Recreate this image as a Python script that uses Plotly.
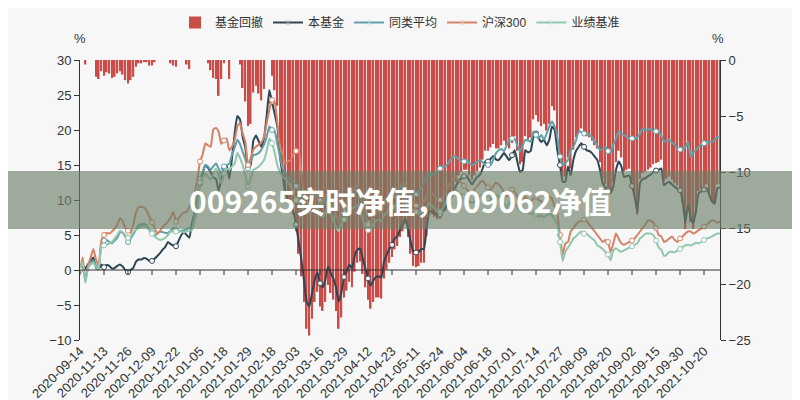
import plotly.graph_objects as go

tick_labels = ["2020-09-14", "2020-11-13", "2020-11-26", "2020-12-09", "2020-12-22",
               "2021-01-05", "2021-01-18", "2021-01-29", "2021-02-18", "2021-03-03",
               "2021-03-16", "2021-03-29", "2021-04-12", "2021-04-23", "2021-05-11",
               "2021-05-24", "2021-06-04", "2021-06-18", "2021-07-01", "2021-07-14",
               "2021-07-27", "2021-08-09", "2021-08-20", "2021-09-02", "2021-09-15",
               "2021-09-30", "2021-10-20"]
tick_step = 9  # categories between labelled ticks

fund = [
    0, 0.6, 0.2, 0.8, 1.3, 1.8, 0.3, 0.1, 0.8,
    0.4, 0.7, 0.6, 0.2, 0.3, 0.6, 0.8, 0.5, 0.0,
    -0.3, 0.0, 0.3, 1.2, 1.5, 1.5, 1.7, 1.6, 1.3,
    1.3, 1.6, 2.0, 2.4, 2.9, 3.3, 4.0, 3.7, 3.5,
    3.4, 4.2, 5.0, 5.4, 5.0, 4.6, 6.7, 8.2, 9.6,
    12.4, 13.8, 15.0, 14.6, 14.0, 13.2, 13.0, 11.3, 13.0,
    14.6, 15.0, 13.0, 16.0, 19.5, 22.0, 21.5, 19.0, 17.5,
    14.8, 15.0, 18.5, 19.2, 18.4, 17.6, 18.8, 22.0, 25.7,
    24.0, 22.3, 20.5, 16.2, 13.5, 11.0, 10.0, 9.2, 8.4,
    6.5, 4.0, 1.5, -1.5, -4.5, -5.2, -3.3, -1.5, -0.3,
    -1.9, -2.5, -1.4, 0.5, -0.4, -1.2, -2.5, -4.5, -3.2,
    -1.0, -0.2, 0.8, 0.2, 2.0, 2.9, 3.1, 1.7, 0.2,
    -1.2, -2.2, -1.5, -1.0, -0.9, -1.1, 1.2, 2.2, 3.0,
    3.6, 4.5, 4.8, 5.8, 6.5, 7.4, 5.9, 4.0, 2.6,
    2.5, 2.6, 3.0, 3.0, 6.0, 8.3, 8.4, 8.1, 7.9,
    7.9, 8.5, 8.8, 9.6, 10.3, 11.0, 12.0, 12.7, 13.1,
    13.4, 13.4, 12.8, 12.2, 12.8, 13.3, 13.6, 14.5, 15.5,
    15.5, 15.9, 16.3, 15.8, 15.7, 16.2, 16.7, 16.2, 15.7,
    16.4, 17.1, 15.5, 14.0, 14.3, 17.1, 16.8, 17.0, 19.0,
    19.5, 18.8, 18.3, 18.6, 17.8, 18.6, 20.5, 20.0, 17.1,
    15.0, 12.6, 12.6, 14.8, 13.5, 15.7, 17.0, 17.6, 18.1,
    17.6, 17.1, 17.0, 16.7, 16.2, 15.7, 14.3, 12.4, 11.8,
    11.4, 11.0, 12.0, 14.3, 15.5, 14.8, 13.3, 13.4, 13.5,
    12.0, 10.5, 8.3, 12.4, 13.0, 13.1, 13.4, 13.6, 14.0,
    14.2, 14.3, 14.5, 12.1, 12.4, 12.6, 12.2, 11.9, 11.6,
    11.4, 9.8, 6.7, 9.3, 7.5, 6.7, 8.5, 11.0, 11.2,
    11.5, 11.7, 10.7, 9.8, 9.5, 11.7, 11.8,
]

peer_avg = [
    0, 1.0, -1.7, 0.5, 1.0, 1.4, 0.6, 0.2, 3.8,
    4.2, 4.3, 4.0, 3.8, 4.2, 4.6, 5.4, 5.3, 4.8,
    4.0, 4.5, 5.1, 5.8, 6.4, 6.5, 6.6, 6.4, 5.8,
    5.4, 5.0, 5.2, 5.5, 5.4, 5.3, 5.3, 5.6, 6.0,
    5.7, 5.5, 5.6, 5.7, 5.8, 6.0, 6.0, 8.5, 10.5,
    13.0, 14.0, 15.0, 14.8, 14.3, 14.8, 15.2, 14.5, 13.6,
    14.8, 15.0, 15.2, 16.5, 17.5, 18.6, 18.0, 16.9, 15.8,
    14.5, 15.5, 16.4, 16.5, 16.7, 17.2, 17.9, 19.0, 20.5,
    20.0, 19.8, 18.0, 16.2, 14.5, 13.8, 13.3, 12.9, 12.5,
    12.0, 11.5, 10.8, 10.0, 9.2, 9.6, 10.2, 10.8, 10.5,
    9.8, 9.0, 9.8, 10.5, 9.8, 9.0, 7.8, 6.8, 7.5,
    8.5, 9.2, 10.0, 10.5, 10.8, 11.2, 10.5, 9.0, 7.5,
    6.8, 6.5, 7.5, 8.0, 8.5, 8.3, 9.2, 9.8, 10.5,
    10.5, 10.8, 11.2, 11.6, 12.0, 11.8, 11.2, 10.8, 10.5,
    10.8, 11.2, 11.8, 12.5, 13.3, 13.8, 13.5, 13.8, 14.2,
    14.5, 14.8, 14.8, 15.2, 15.8, 16.2, 16.2, 15.8, 15.5,
    15.5, 15.7, 15.3, 15.0, 15.2, 15.5, 15.7, 15.4, 15.0,
    15.0, 15.0, 15.8, 16.7, 17.1, 17.3, 17.0, 17.8, 18.6,
    18.8, 18.7, 17.8, 16.9, 17.8, 18.6, 18.5, 18.3, 19.8,
    19.3, 18.8, 19.3, 18.6, 19.5, 20.5, 21.2, 20.5, 19.0,
    16.2, 15.0, 15.3, 15.7, 17.1, 17.6, 18.5, 19.8, 19.7,
    19.5, 19.5, 19.3, 19.0, 18.3, 17.8, 17.1, 17.3, 17.6,
    17.0, 16.7, 17.9, 18.8, 19.8, 19.5, 19.3, 19.0, 18.8,
    18.8, 18.7, 19.0, 19.5, 20.2, 20.0, 20.0, 20.2, 19.8,
    19.8, 19.8, 19.2, 18.3, 18.5, 18.6, 18.2, 17.9, 17.4,
    17.2, 17.1, 17.6, 18.3, 16.2, 16.8, 17.1, 17.6, 17.9,
    18.1, 18.3, 18.3, 18.3, 18.6, 19.0, 19.0,
]

hs300 = [
    0, 1.8, -1.4, 0.5, 1.8, 3.0, 1.5, 0.6, 4.2,
    5.0, 5.3, 5.2, 5.5, 5.9, 6.5, 7.4, 7.0, 6.0,
    5.6, 5.3, 6.5, 8.2, 9.0, 9.0, 8.9, 8.5, 7.6,
    6.8, 6.0, 5.2, 5.6, 6.2, 6.5, 6.9, 7.5, 8.3,
    6.9, 7.4, 7.9, 8.2, 8.3, 9.0, 9.7, 11.0, 12.9,
    15.5, 16.5, 18.1, 17.8, 17.6, 20.1, 20.3, 19.7, 18.0,
    18.5, 18.8, 17.1, 17.6, 18.6, 20.5, 21.0, 19.5, 18.3,
    15.0, 16.0, 17.2, 17.6, 17.9, 18.2, 19.0, 21.0, 22.9,
    24.3, 24.0, 21.0, 17.6, 16.5, 15.2, 15.5, 15.7, 16.5,
    17.0, 17.2, 14.0, 11.0, 9.0, 9.5, 10.5, 11.5, 10.8,
    10.0, 9.2, 10.5, 11.5, 10.8, 9.5, 8.0, 7.0, 8.0,
    9.0, 10.0, 10.8, 11.0, 11.8, 12.0, 11.5, 9.8, 8.2,
    6.5, 5.8, 7.5, 8.0, 8.5, 8.2, 9.5, 10.2, 10.8,
    11.0, 11.2, 11.8, 12.0, 12.5, 12.2, 11.0, 10.0, 9.5,
    9.2, 9.0, 9.5, 9.8, 10.8, 11.2, 11.0, 10.5, 10.2,
    10.0, 10.5, 11.0, 11.8, 12.5, 13.0, 13.2, 12.8, 12.5,
    12.0, 11.5, 11.2, 11.0, 11.5, 12.0, 12.5, 12.8, 12.2,
    11.8, 11.5, 12.0, 12.5, 12.2, 11.8, 11.0, 10.5, 11.0,
    11.5, 11.2, 10.5, 9.5, 9.8, 10.5, 10.0, 9.8, 10.2,
    10.5, 10.0, 9.8, 9.5, 9.8, 10.5, 10.2, 9.0, 8.0,
    5.0, 2.1, 3.8, 4.0, 5.5, 6.0, 6.5, 6.9, 7.0,
    7.2, 7.0, 6.5, 6.0, 5.5, 5.0, 4.5, 4.0, 4.3,
    4.0, 2.6, 3.8, 5.2, 4.5, 3.8, 3.6, 3.8, 4.0,
    4.2, 4.5, 5.0, 5.5, 6.0, 6.5, 7.1, 7.0, 6.8,
    6.0, 5.0, 4.8, 4.0, 4.2, 4.5, 4.8, 4.3, 4.0,
    4.5, 4.8, 5.2, 5.5, 5.5, 5.2, 5.4, 5.7, 5.9,
    6.2, 6.5, 6.8, 7.1, 7.0, 6.8, 6.9,
]

benchmark = [
    0, 1.2, -1.8, 0.2, 0.8, 1.0, 0.4, 0.1, 3.5,
    3.5, 3.6, 3.8, 4.0, 4.5, 5.0, 5.6, 5.4, 5.0,
    4.6, 4.8, 5.4, 5.8, 6.0, 6.2, 6.3, 6.2, 5.6,
    5.2, 4.8, 4.5, 4.3, 4.4, 4.6, 5.0, 5.5, 5.5,
    5.5, 5.5, 5.5, 5.4, 5.5, 5.6, 5.7, 7.0, 9.0,
    12.5, 13.2, 13.8, 13.3, 12.9, 13.8, 14.5, 13.5, 12.4,
    13.8, 14.5, 14.3, 14.8, 15.2, 16.7, 16.0, 15.0, 13.5,
    11.9, 13.0, 14.3, 14.5, 14.8, 15.2, 15.7, 17.0, 18.8,
    18.1, 16.8, 15.0, 14.0, 13.3, 13.0, 12.6, 12.0, 11.0,
    10.0, 9.5, 9.0, 8.5, 8.0, 8.5, 9.0, 9.2, 8.8,
    8.0, 7.5, 8.2, 8.8, 8.0, 7.2, 6.2, 5.5, 6.5,
    7.2, 7.8, 8.5, 8.8, 9.0, 9.2, 8.5, 7.2, 6.2,
    5.7, 5.8, 6.5, 7.0, 7.2, 7.0, 7.8, 8.2, 8.8,
    9.0, 9.2, 9.5, 9.8, 10.0, 10.0, 9.2, 8.8, 8.5,
    8.3, 8.0, 8.3, 8.5, 9.0, 9.5, 9.2, 8.8, 8.5,
    8.3, 8.8, 9.5, 10.0, 10.8, 11.2, 11.5, 11.0, 10.8,
    10.5, 10.0, 9.8, 9.6, 9.8, 10.2, 10.6, 10.8, 10.5,
    10.2, 10.0, 10.5, 10.8, 10.5, 10.0, 9.5, 9.0, 9.5,
    9.8, 9.5, 9.0, 8.5, 8.2, 8.5, 8.2, 8.0, 8.2,
    8.0, 7.6, 7.8, 7.5, 7.8, 8.0, 7.8, 7.2, 6.5,
    4.0, 1.3, 2.6, 3.2, 3.8, 4.5, 4.8, 5.2, 5.5,
    5.2, 5.2, 4.8, 4.5, 4.2, 3.5, 3.3, 3.0, 2.6,
    2.2, 1.4, 2.8, 3.1, 2.8, 2.6, 2.8, 3.0, 3.2,
    3.4, 3.6, 3.8, 4.5, 4.8, 5.2, 5.2, 5.2, 5.0,
    4.2, 3.2, 2.9, 2.0, 2.2, 2.6, 2.6, 2.5, 2.8,
    3.0, 3.3, 3.5, 3.6, 3.5, 3.7, 3.9, 3.8, 4.0,
    4.3, 4.5, 4.6, 4.8, 5.0, 5.2, 5.2,
]

drawdown = [
    0, 0, -0.4, 0, 0, 0, -1.5, -1.7, -1.0,
    -1.4, -1.1, -1.2, -1.6, -1.5, -1.2, -1.0, -1.3, -1.8,
    -2.1, -1.8, -1.5, -0.6, -0.3, -0.3, -0.1, -0.2, -0.5,
    -0.5, -0.2, 0, 0, 0, 0, 0, -0.3, -0.5,
    -0.6, 0, 0, 0, -0.4, -0.8, 0, 0, 0,
    0, 0, 0, -0.3, -0.9, -1.6, -1.7, -3.2, -1.7,
    -0.3, 0, -1.7, 0, 0, 0, -0.4, -2.5, -3.7,
    -5.9, -5.7, -2.9, -2.3, -3.0, -3.6, -2.6, 0, 0,
    -1.4, -2.7, -4.1, -7.6, -9.7, -11.7, -12.5, -13.1, -13.8,
    -15.3, -17.3, -19.3, -21.6, -24.0, -24.6, -23.1, -21.6, -20.7,
    -22.0, -22.4, -21.6, -20.1, -20.8, -21.4, -22.4, -24.0, -23.0,
    -21.2, -20.6, -19.8, -20.3, -18.9, -18.1, -18.0, -19.1, -20.3,
    -21.4, -22.2, -21.6, -21.2, -21.2, -21.3, -19.5, -18.7, -18.1,
    -17.6, -16.9, -16.6, -15.8, -15.3, -14.6, -15.8, -17.3, -18.4,
    -18.5, -18.4, -18.1, -18.1, -15.7, -13.8, -13.8, -14.0, -14.2,
    -14.2, -13.7, -13.5, -12.8, -12.3, -11.7, -10.9, -10.3, -10.0,
    -9.8, -9.8, -10.3, -10.7, -10.3, -9.9, -9.6, -8.9, -8.1,
    -8.1, -7.8, -7.5, -7.9, -7.9, -7.6, -7.2, -7.6, -7.9,
    -7.4, -6.8, -8.1, -9.3, -9.1, -6.8, -7.1, -6.9, -5.3,
    -4.9, -5.5, -5.9, -5.7, -6.3, -5.7, -4.1, -4.5, -6.8,
    -8.5, -10.4, -10.4, -8.7, -9.7, -8.0, -6.9, -6.5, -6.1,
    -6.5, -6.8, -6.9, -7.2, -7.6, -7.9, -9.1, -10.6, -11.1,
    -11.4, -11.7, -10.9, -9.1, -8.1, -8.7, -9.9, -9.8, -9.7,
    -10.9, -12.1, -13.8, -10.6, -10.1, -10.0, -9.8, -9.6, -9.3,
    -9.2, -9.1, -8.9, -10.8, -10.6, -10.4, -10.7, -11.0, -11.2,
    -11.4, -12.7, -15.1, -13.1, -14.5, -15.1, -13.7, -11.7, -11.5,
    -11.3, -11.1, -11.9, -12.7, -12.9, -11.1, -11.1,
]

x = list(range(len(fund)))
tick_pos = [i * tick_step for i in range(len(tick_labels))]
marker_opacity = [1 if i % tick_step == 0 else 0 for i in x]

FONT = "Liberation Sans, Noto Sans CJK SC, sans-serif"
AX = "#333333"

fig = go.Figure()
fig.add_trace(go.Bar(x=x, y=drawdown, name="基金回撤", yaxis="y",
                     marker=dict(color="#c23531", line=dict(width=0)), opacity=0.88))

line_series = [("本基金", fund, "#2f4554"), ("同类平均", peer_avg, "#61a0a8"),
               ("沪深300", hs300, "#d48265"), ("业绩基准", benchmark, "#91c7ae")]
for name, vals, col in line_series:
    fig.add_trace(go.Scatter(
        x=x, y=vals, name=name, yaxis="y2", mode="lines+markers",
        line=dict(color=col, width=2, shape="spline", smoothing=0.4),
        marker=dict(symbol="circle", size=5, color="white", opacity=marker_opacity,
                    line=dict(color=col, width=1)),
    ))

shapes = [dict(type="line", xref="x", yref="y2", x0=0, x1=len(fund) - 1, y0=0, y1=0,
               line=dict(color=AX, width=1), layer="above")]
for tp in tick_pos:
    shapes.append(dict(type="line", xref="x", yref="y2", x0=tp, x1=tp,
                       ysizemode="pixel", yanchor=0, y0=0, y1=-5,
                       line=dict(color=AX, width=1), layer="above"))
# banner overlay
shapes.append(dict(type="rect", xref="paper", yref="paper", x0=-0.2, x1=1.2,
                   y0=(340 - 229) / 280, y1=(340 - 171) / 280,
                   fillcolor="rgba(108,126,103,0.64)", line=dict(width=0), layer="above"))

# the page body adds an 8px offset, so the figure is 8px smaller and margins shifted
fig.update_layout(
    width=792, height=392,
    margin=dict(l=72, r=80, t=52, b=60, autoexpand=False),
    paper_bgcolor="#f7f7f7", plot_bgcolor="#f7f7f7",
    font=dict(family=FONT, size=13, color=AX),
    bargap=0.35,
    showlegend=True,
    legend=dict(orientation="h", x=0.5, xanchor="center", yref="container", y=1.0,
                yanchor="top", font=dict(size=12, color=AX), bgcolor="rgba(0,0,0,0)",
                itemwidth=30, tracegroupgap=0),
    xaxis=dict(range=[0, len(fund) - 1], tickmode="array", tickvals=tick_pos,
               ticktext=tick_labels, tickangle=-45, showline=False, ticks="",
               showgrid=False, zeroline=False, automargin=False,
               tickfont=dict(size=13, color=AX)),
    yaxis=dict(side="right", range=[-25, 0], dtick=5, showline=True, linecolor=AX,
               ticks="outside", ticklen=5, tickcolor=AX, showgrid=False, zeroline=False,
               automargin=False, tickfont=dict(size=13, color=AX)),
    yaxis2=dict(side="left", overlaying="y", range=[-10, 30], dtick=5, showline=True,
                linecolor=AX, ticks="outside", ticklen=5, tickcolor=AX, showgrid=False,
                zeroline=False, automargin=False, tickfont=dict(size=13, color=AX)),
    shapes=shapes,
    annotations=[
        dict(text="%", xref="paper", yref="paper", x=0, y=(340 - 38) / 280,
             showarrow=False, font=dict(size=13, color=AX), xanchor="center", yanchor="middle"),
        dict(text="%", xref="paper", yref="paper", x=0.997, y=(340 - 38) / 280,
             showarrow=False, font=dict(size=13, color=AX), xanchor="center", yanchor="middle"),
        dict(text="<b>009265实时净值，009062净值</b>", xref="paper", yref="paper",
             x=0.5, y=0.5, showarrow=False, xanchor="center", yanchor="middle",
             font=dict(size=30, color="white", family="Noto Sans CJK SC, sans-serif")),
    ],
)

fig.write_html("out.html")
